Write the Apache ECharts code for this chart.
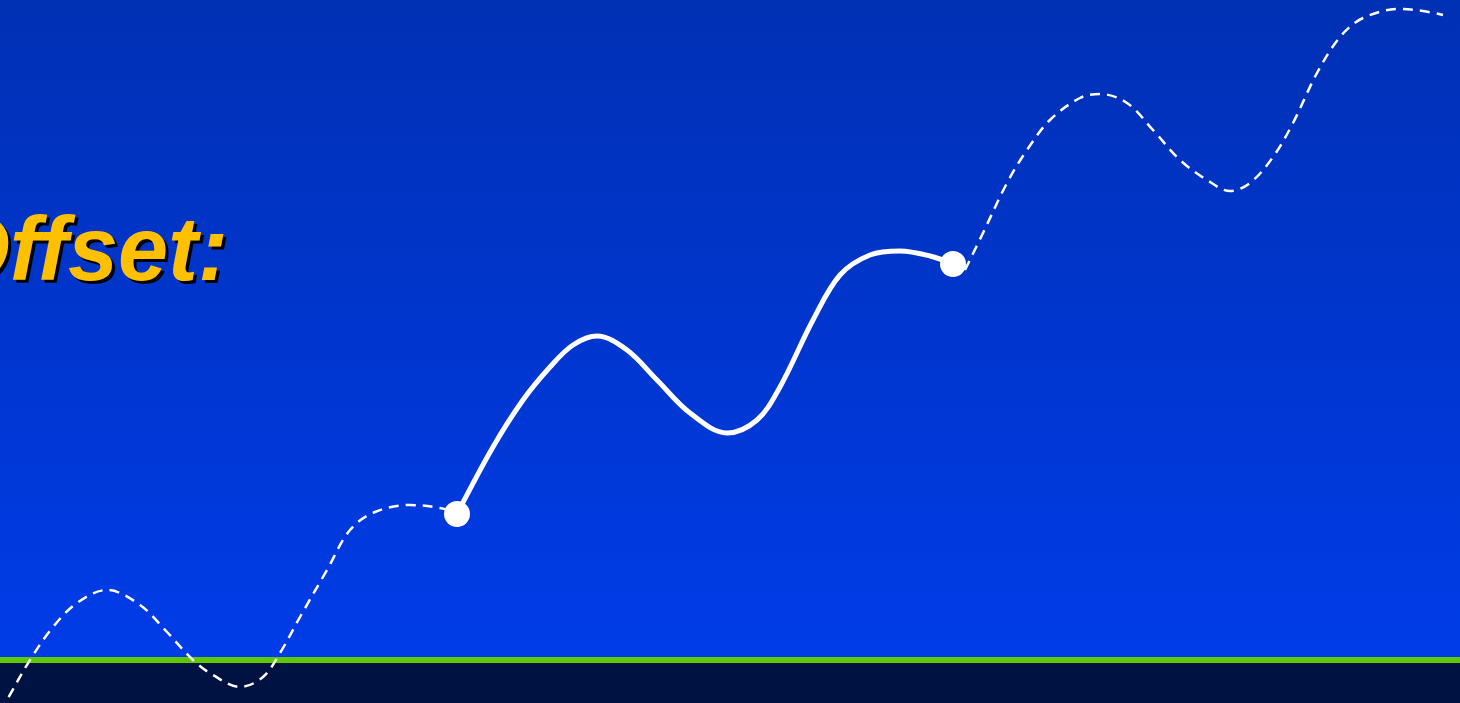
<!DOCTYPE html>
<html>
<head>
<meta charset="utf-8">
<style>
  html, body { margin: 0; padding: 0; background: #0036d0; }
  #main { width: 1460px; height: 703px; }
</style>
<script src="https://cdn.jsdelivr.net/npm/echarts@6/dist/echarts.min.js"></script>
</head>
<body>
<div id="main"></div>
<script>
// curve: [x, depth from top]
const leadCurve = [[0,712],[7,700],[30,660],[53,627],[77,603],[107,590],[140,605],[167,632],[193,660],[213,675],[240,687],[263,677],[280,653],[300,617],[327,570],[350,530],[375,512],[410,505],[440,508],[457,513]]
const mainCurve = [[457,514],[493,447],[523,400],[550,367],[573,345],[597,336],[627,350],[657,380],[690,413],[727,433],[757,420],[780,387],[813,320],[840,275],[870,255],[900,251],[930,256],[953,264]]
const tailCurve = [[965,270],[983,233],[1007,183],[1027,150],[1050,120],[1080,98],[1100,94],[1127,103],[1153,130],[1180,160],[1207,180],[1230,191],[1250,183],[1273,157],[1293,123],[1317,73],[1340,37],[1363,18],[1400,9],[1423,11],[1443,15]]
const endPoints = [[457,514],[953,264]]
const titleText = 'Offset:'

let mychart = echarts.init(document.getElementById('main'))

const dashed = {
  type: 'line',
  smooth: 0.35,
  symbol: 'none',
  lineStyle: { color: '#ffffff', width: 2.5, type: [10, 7] },
  z: 3
}

const titleFont = 'italic bold 90px "Liberation Sans", Arial, sans-serif'

var option = {
  animation: false,
  grid: { left: 0, right: 0, top: 0, bottom: 0 },
  xAxis: { type: 'value', min: 0, max: 1460, show: false },
  yAxis: { type: 'value', min: 0, max: 703, inverse: true, show: false },
  graphic: [
    {
      type: 'rect', z: -10, silent: true,
      shape: { x: 0, y: 0, width: 1460, height: 660 },
      style: {
        fill: new echarts.graphic.LinearGradient(0, 0, 0, 1, [
          { offset: 0, color: '#0030b4' },
          { offset: 1, color: '#003ce8' }
        ])
      }
    },
    {
      type: 'rect', z: -9, silent: true,
      shape: { x: 0, y: 657, width: 1460, height: 6 },
      style: { fill: '#5ec800' }
    },
    {
      type: 'rect', z: -9, silent: true,
      shape: { x: 0, y: 663, width: 1460, height: 40 },
      style: { fill: '#001242' }
    },
    // shadow copy of the title
    {
      type: 'text', z: 5, silent: true,
      x: 231, y: 303,
      style: { text: titleText, align: 'right', verticalAlign: 'bottom', font: titleFont, fill: '#000000' }
    },
    {
      type: 'text', z: 6, silent: true,
      x: 228, y: 300,
      style: { text: titleText, align: 'right', verticalAlign: 'bottom', font: titleFont, fill: '#ffc000' }
    }
  ],
  series: [
    Object.assign({ data: leadCurve }, dashed),
    {
      type: 'line',
      smooth: 0.35,
      symbol: 'none',
      data: mainCurve,
      lineStyle: { color: '#ffffff', width: 5 },
      z: 4
    },
    Object.assign({ data: tailCurve }, dashed),
    {
      type: 'scatter',
      data: endPoints,
      symbolSize: 26,
      itemStyle: { color: '#ffffff', opacity: 1 },
      z: 5
    }
  ]
}

mychart.setOption(option)
</script>
</body>
</html>
